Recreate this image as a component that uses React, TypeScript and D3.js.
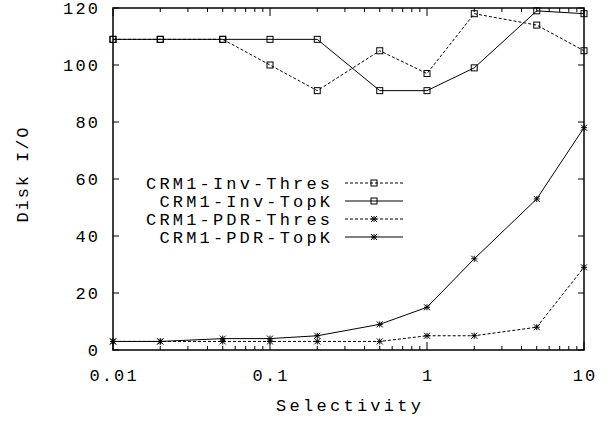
import React from "react";
import * as d3 from "d3";

const selectivity = [0.01, 0.02, 0.05, 0.1, 0.2, 0.5, 1, 2, 5, 10];
const invThres = [109, 109, 109, 100, 91, 105, 97, 118, 114, 105];
const invTopK = [109, 109, 109, 109, 109, 91, 91, 99, 119, 118];
const pdrThres = [3, 3, 3, 3, 3, 3, 5, 5, 8, 29];
const pdrTopK = [3, 3, 4, 4, 5, 9, 15, 32, 53, 78];
const yTicks = [0, 20, 40, 60, 80, 100, 120];
const xTicks = [0.01, 0.1, 1, 10];
const xTickLabels = ["0.01", "0.1", "1", "10"];

const series = [
  { name: "CRM1-Inv-Thres", values: invThres, dashed: true, marker: "square" },
  { name: "CRM1-Inv-TopK", values: invTopK, dashed: false, marker: "square" },
  { name: "CRM1-PDR-Thres", values: pdrThres, dashed: true, marker: "star" },
  { name: "CRM1-PDR-TopK", values: pdrTopK, dashed: false, marker: "star" },
];

const W = 613, H = 423;
const L = 113, R = 584, T = 8, B = 350;
const FONT = "'Liberation Mono', 'DejaVu Sans Mono', monospace";
const FS = 17;

function Marker({ kind, x, y }: { kind: string; x: number; y: number }) {
  const s = 3;
  if (kind === "square") {
    return <rect x={x - s} y={y - s} width={2 * s} height={2 * s} fill="none" stroke="#000" strokeWidth={1} />;
  }
  return (
    <g stroke="#000" strokeWidth={1}>
      <line x1={x - s} y1={y} x2={x + s} y2={y} />
      <line x1={x} y1={y - s} x2={x} y2={y + s} />
      <line x1={x - s} y1={y - s} x2={x + s} y2={y + s} />
      <line x1={x - s} y1={y + s} x2={x + s} y2={y - s} />
    </g>
  );
}

export default function App() {
  const x = d3.scaleLog().domain([0.01, 10]).range([L, R]);
  const y = d3.scaleLinear().domain([0, 120]).range([B, T]);
  const line = d3.line<[number, number]>().x((d) => x(d[0])).y((d) => y(d[1]));

  const minor: number[] = [];
  for (const dec of [0.01, 0.1, 1]) for (let k = 2; k <= 9; k++) minor.push(dec * k);

  const legendY = [183, 201, 219, 237];

  return (
    <svg width={W} height={H} style={{ position: "absolute", left: 0, top: 0, background: "#fff" }}>
      <rect width={W} height={H} fill="#fff" />
      {/* ticks */}
      <g stroke="#000" strokeWidth={1}>
        {xTicks.map((t) => (
          <g key={"xt" + t}>
            <line x1={x(t)} x2={x(t)} y1={B} y2={B - 8} />
            <line x1={x(t)} x2={x(t)} y1={T} y2={T + 8} />
          </g>
        ))}
        {minor.map((t) => (
          <g key={"xm" + t}>
            <line x1={x(t)} x2={x(t)} y1={B} y2={B - 4} />
            <line x1={x(t)} x2={x(t)} y1={T} y2={T + 4} />
          </g>
        ))}
        {yTicks.map((t) => (
          <g key={"yt" + t}>
            <line x1={L} x2={L + 6} y1={y(t)} y2={y(t)} />
            <line x1={R} x2={R - 6} y1={y(t)} y2={y(t)} />
          </g>
        ))}
      </g>
      {/* tick labels */}
      <g fontFamily={FONT} fontSize={FS} fill="#000">
        {yTicks.map((t) => {
          const s = String(t);
          return (
            <text key={"yl" + t} x={98} y={y(t) + 6} textAnchor="end" textLength={s.length * 12.3 - 2} lengthAdjust="spacing">
              {s}
            </text>
          );
        })}
        {xTicks.map((t, i) => {
          const s = xTickLabels[i];
          return (
            <text key={"xl" + t} x={x(t)} y={381} textAnchor="middle" textLength={s.length * 12.3 - 2} lengthAdjust="spacing">
              {s}
            </text>
          );
        })}
        <text x={(L + R) / 2} y={411} textAnchor="middle" textLength={145} lengthAdjust="spacing">
          Selectivity
        </text>
        <text
          transform={`translate(28, ${(T + B) / 2 - 4}) rotate(-90)`}
          textAnchor="middle"
          textLength={95}
          lengthAdjust="spacing"
        >
          Disk I/O
        </text>
      </g>
      {/* series */}
      {series.map((s) => {
        const pts = selectivity.map((v, i) => [v, s.values[i]] as [number, number]);
        return (
          <g key={s.name}>
            <path d={line(pts) || ""} fill="none" stroke="#000" strokeWidth={1} strokeDasharray={s.dashed ? "3,2" : undefined} />
            {pts.map((p, i) => (
              <Marker key={i} kind={s.marker} x={x(p[0])} y={y(p[1])} />
            ))}
          </g>
        );
      })}
      {/* legend */}
      <g fontFamily={FONT} fontSize={FS} fill="#000">
        {series.map((s, i) => (
          <g key={"lg" + s.name}>
            <text x={330} y={legendY[i] + 6} textAnchor="end" textLength={s.name.length * 13.35 - 3} lengthAdjust="spacing">
              {s.name}
            </text>
            <line x1={345} x2={403} y1={legendY[i]} y2={legendY[i]} stroke="#000" strokeWidth={1} strokeDasharray={s.dashed ? "3,2" : undefined} />
            <Marker kind={s.marker} x={374} y={legendY[i]} />
          </g>
        ))}
      </g>
      {/* border */}
      <rect x={L} y={T} width={R - L} height={B - T} fill="none" stroke="#000" strokeWidth={1.5} />
    </svg>
  );
}
